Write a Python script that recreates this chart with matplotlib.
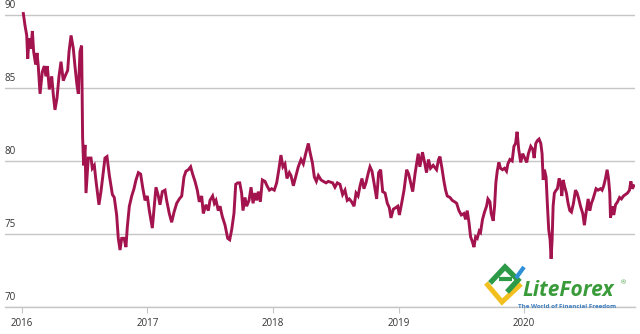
#!/usr/bin/env python3
"""Sterling index 2016-2020, line chart with LiteForex watermark"""

import numpy as np
import matplotlib.pyplot as plt
from matplotlib.lines import Line2D
from matplotlib.transforms import blended_transform_factory

# decimal years and index values
years = [
    2016.013, 2016.026, 2016.040, 2016.048, 2016.058, 2016.074, 2016.085, 2016.095,
    2016.111, 2016.122, 2016.132, 2016.146, 2016.164, 2016.180, 2016.193, 2016.204,
    2016.220, 2016.239, 2016.252, 2016.265, 2016.281, 2016.297, 2016.313, 2016.331,
    2016.350, 2016.366, 2016.377, 2016.393, 2016.411, 2016.424, 2016.440, 2016.451,
    2016.464, 2016.477, 2016.485, 2016.493, 2016.504, 2016.512, 2016.530, 2016.552,
    2016.562, 2016.578, 2016.592, 2016.615, 2016.631, 2016.650, 2016.663, 2016.679,
    2016.698, 2016.722, 2016.737, 2016.756, 2016.769, 2016.783, 2016.796, 2016.815,
    2016.830, 2016.841, 2016.857, 2016.876, 2016.894, 2016.910, 2016.929, 2016.947,
    2016.963, 2016.982, 2017.000, 2017.016, 2017.040, 2017.056, 2017.069, 2017.088,
    2017.101, 2017.120, 2017.141, 2017.154, 2017.175, 2017.194, 2017.213, 2017.234,
    2017.255, 2017.274, 2017.292, 2017.308, 2017.327, 2017.345, 2017.361, 2017.380,
    2017.398, 2017.414, 2017.433, 2017.446, 2017.467, 2017.486, 2017.499, 2017.520,
    2017.534, 2017.547, 2017.565, 2017.579, 2017.597, 2017.619, 2017.640, 2017.656,
    2017.672, 2017.690, 2017.704, 2017.720, 2017.736, 2017.751, 2017.762, 2017.778,
    2017.791, 2017.810, 2017.826, 2017.842, 2017.857, 2017.871, 2017.884, 2017.900,
    2017.916, 2017.937, 2017.953, 2017.972, 2017.990, 2018.011, 2018.030, 2018.049,
    2018.064, 2018.080, 2018.096, 2018.112, 2018.131, 2018.144, 2018.163, 2018.181,
    2018.202, 2018.224, 2018.242, 2018.261, 2018.282, 2018.298, 2018.314, 2018.330,
    2018.346, 2018.362, 2018.383, 2018.402, 2018.423, 2018.441, 2018.476, 2018.494,
    2018.513, 2018.534, 2018.555, 2018.574, 2018.592, 2018.608, 2018.627, 2018.646,
    2018.662, 2018.678, 2018.694, 2018.709, 2018.725, 2018.741, 2018.760, 2018.773,
    2018.789, 2018.805, 2018.826, 2018.842, 2018.858, 2018.874, 2018.893, 2018.911,
    2018.927, 2018.940, 2018.959, 2018.978, 2018.994, 2019.007, 2019.025, 2019.044,
    2019.065, 2019.081, 2019.097, 2019.113, 2019.133, 2019.149, 2019.157, 2019.170,
    2019.191, 2019.210, 2019.223, 2019.239, 2019.255, 2019.276, 2019.303, 2019.319,
    2019.330, 2019.346, 2019.362, 2019.375, 2019.388, 2019.410, 2019.428, 2019.447,
    2019.463, 2019.481, 2019.500, 2019.521, 2019.534, 2019.547, 2019.561, 2019.574,
    2019.587, 2019.601, 2019.614, 2019.627, 2019.643, 2019.653, 2019.669, 2019.685,
    2019.701, 2019.712, 2019.728, 2019.738, 2019.754, 2019.765, 2019.775, 2019.786,
    2019.799, 2019.812, 2019.828, 2019.844, 2019.860, 2019.871, 2019.887, 2019.905,
    2019.919, 2019.932, 2019.944, 2019.957, 2019.973, 2019.989, 2020.005, 2020.021,
    2020.034, 2020.053, 2020.069, 2020.080, 2020.093, 2020.106, 2020.119, 2020.133,
    2020.143, 2020.152, 2020.162, 2020.175, 2020.186, 2020.196, 2020.207, 2020.215,
    2020.223, 2020.231, 2020.241, 2020.255, 2020.265, 2020.279, 2020.292, 2020.300,
    2020.311, 2020.324, 2020.337, 2020.350, 2020.364, 2020.377, 2020.393, 2020.409,
    2020.422, 2020.435, 2020.449, 2020.467, 2020.480, 2020.494, 2020.510, 2020.523,
    2020.536, 2020.549, 2020.563, 2020.573, 2020.589, 2020.608, 2020.621, 2020.634,
    2020.648, 2020.661, 2020.672, 2020.682, 2020.688, 2020.701, 2020.714, 2020.728,
    2020.744, 2020.760, 2020.775, 2020.791, 2020.807, 2020.823, 2020.839, 2020.850,
    2020.861, 2020.874,
]
values = [
    90.1, 89.3, 88.6, 87.0, 88.4, 87.7, 88.9, 87.5,
    86.6, 87.4, 86.5, 84.6, 86.1, 86.5, 85.8, 86.5,
    84.9, 85.8, 84.5, 83.5, 84.3, 85.8, 86.8, 85.5,
    85.9, 86.2, 87.5, 88.6, 87.7, 86.5, 85.2, 84.6,
    87.5, 87.9, 81.6, 79.7, 81.1, 77.8, 80.2, 80.2,
    79.5, 79.7, 78.6, 77.0, 77.9, 79.3, 80.2, 80.3,
    79.0, 77.7, 77.5, 76.3, 74.7, 73.9, 74.7, 74.7,
    74.1, 75.5, 76.9, 77.6, 78.1, 78.7, 79.2, 79.1,
    78.2, 77.3, 77.6, 76.6, 75.4, 76.9, 78.2, 77.6,
    77.0, 77.9, 78.0, 77.3, 76.4, 75.8, 76.5, 77.1,
    77.4, 77.6, 78.9, 79.3, 79.4, 79.6, 79.1, 78.6,
    78.0, 77.2, 77.6, 76.4, 77.0, 76.6, 77.3, 77.6,
    77.1, 77.3, 76.6, 76.9, 76.2, 75.6, 74.7, 74.6,
    75.3, 76.4, 78.4, 78.5, 78.5, 77.8, 76.6, 77.5,
    76.9, 77.3, 78.2, 77.1, 77.8, 77.3, 77.9, 77.2,
    78.7, 78.6, 78.3, 78.0, 78.1, 78.0, 78.5, 79.5,
    80.4, 79.6, 79.8, 78.8, 79.2, 79.0, 78.3, 78.9,
    79.6, 80.1, 79.8, 80.5, 81.2, 80.5, 79.9, 78.9,
    78.6, 79.0, 78.7, 78.6, 78.5, 78.6, 78.5, 78.2,
    78.5, 78.4, 77.7, 78.0, 77.3, 77.4, 77.2, 76.9,
    77.8, 77.6, 78.3, 78.8, 78.1, 78.5, 79.2, 79.6,
    79.3, 78.5, 77.4, 79.2, 79.4, 77.9, 77.8, 77.1,
    76.8, 76.1, 76.7, 76.8, 76.9, 76.3, 77.1, 78.0,
    79.4, 79.1, 78.5, 77.9, 79.2, 80.1, 80.5, 79.6,
    80.6, 79.8, 79.2, 80.1, 79.5, 79.7, 79.4, 80.1,
    80.3, 79.5, 78.6, 78.0, 77.6, 77.5, 77.3, 77.2,
    77.1, 76.6, 76.3, 76.4, 76.0, 76.6, 75.8, 74.8,
    74.5, 74.1, 74.8, 74.7, 75.2, 75.1, 76.0, 76.5,
    76.9, 77.4, 77.2, 76.4, 75.9, 76.9, 78.5, 79.3,
    79.9, 79.5, 79.4, 79.5, 79.3, 79.8, 80.1, 80.0,
    81.0, 81.2, 82.0, 80.8, 79.9, 80.5, 80.2, 79.9,
    80.5, 81.0, 80.8, 80.2, 81.2, 81.4, 81.5, 81.2,
    80.5, 78.7, 79.4, 78.9, 76.9, 75.3, 74.6, 73.3,
    74.6, 76.9, 77.8, 78.0, 78.1, 78.8, 78.4, 77.6,
    78.7, 78.2, 77.8, 77.1, 76.6, 76.5, 77.1, 78.0,
    77.8, 77.4, 76.9, 76.4, 75.6, 76.5, 77.4, 76.6,
    77.1, 77.4, 77.8, 78.1, 78.0, 78.1, 78.0, 78.3,
    78.8, 79.4, 78.8, 77.8, 76.1, 76.9, 76.3, 77.0,
    77.2, 77.5, 77.4, 77.6, 77.7, 77.8, 78.0, 78.6,
    78.1, 78.3,
]

x_ticks = [2016, 2017, 2018, 2019, 2020]
x_labels = ['2016', '2017', '2018', '2019', '2020']
y_ticks = [70, 75, 80, 85, 90]
y_labels = ['70', '75', '80', '85', '90']

LINE = '#a3134e'
GRID = '#c6c6c6'
TEXT = '#333333'

plt.rcParams['font.family'] = ['Open Sans', 'DejaVu Sans']

fig = plt.figure(figsize=(6.4, 3.34), dpi=100)
ax = fig.add_axes([0.0078, 0.081, 0.9844, 0.889])

ax.plot(years, values, color=LINE, lw=2.1, solid_joinstyle='miter', zorder=3)

ax.set_xlim(2015.867, 2020.883)
ax.set_ylim(70, 90.34)

# horizontal grid + labels sitting just above each line
ax.set_yticks(y_ticks)
ax.yaxis.grid(True, color=GRID, lw=1.0)
ax.tick_params(axis='y', left=False, labelleft=False)
trans = blended_transform_factory(ax.transAxes, ax.transData)
for v, lab in zip(y_ticks, y_labels):
    ax.text(0.0, v + 0.25, lab, transform=trans, ha='left', va='bottom',
            fontsize=7, color=TEXT)

ax.set_xticks(x_ticks)
ax.set_xticklabels(x_labels)
ax.tick_params(axis='x', length=4, width=0.8, color=GRID, labelsize=7,
               labelcolor=TEXT, pad=4)

for side in ['top', 'right', 'left']:
    ax.spines[side].set_visible(False)
ax.spines['bottom'].set_color(GRID)
ax.spines['bottom'].set_linewidth(1.0)

# LiteForex watermark, drawn in figure pixels
def px(x, y):
    return x / 640, 1 - y / 334

def stroke(pts, color, lw):
    xs, ys = zip(*[px(*p) for p in pts])
    fig.add_artist(Line2D(xs, ys, color=color, lw=lw, solid_capstyle='butt',
                          solid_joinstyle='miter', transform=fig.transFigure))

stroke([(486, 283), (502, 302), (521, 284)], '#f2c01e', 3.6)
stroke([(490, 283), (505, 267), (518, 280), (507, 292)], '#2d9a47', 3.8)
stroke([(499, 279), (512, 279)], '#2d9a47', 3.0)
stroke([(516, 278), (524, 267)], '#2f8fd8', 3.0)

fig.text(*px(522, 291), 'LiteForex', fontsize=15, fontweight='bold',
         fontstyle='italic', color='#3a9b3a', ha='left', va='center')
fig.text(*px(621, 283), '®', fontsize=4.5, color='#3a9b3a', ha='left', va='center')
fig.text(*px(518, 306.5), 'The World of Financial Freedom', fontsize=4.5,
         fontweight='bold', color='#3f7fbf', ha='left', va='center')

plt.savefig('out.png', dpi=100)
